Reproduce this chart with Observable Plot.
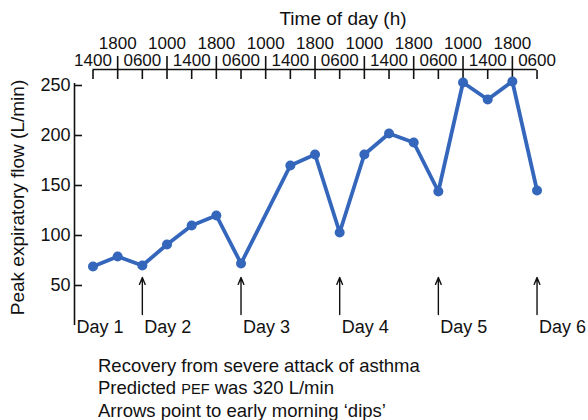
<!DOCTYPE html>
<html>
<head>
<meta charset="utf-8">
<script src="https://cdn.jsdelivr.net/npm/d3@7"></script>
<script src="https://cdn.jsdelivr.net/npm/@observablehq/plot@0.6"></script>
<style>
  body { margin: 0; background: #fff; font-family: "Liberation Sans", Arial, sans-serif; color: #111; }
  #cap { margin: 15px 0 0 98px; font-size: 18.5px; line-height: 22px; }
  #cap .sc { font-size: 14.5px; }
</style>
</head>
<body>
<div id="chart"></div>
<div id="cap">
  <div>Recovery from severe attack of asthma</div>
  <div>Predicted <span class="sc">PEF</span> was 320 L/min</div>
  <div>Arrows point to early morning ‘dips’</div>
</div>
<script>
// Reading slots (evenly spaced readings at 0600, 1000, 1400, 1800; slot 7 missing)
const readingIndex = [0, 1, 2, 3, 4, 5, 6, 8, 9, 10, 11, 12, 13, 14, 15, 16, 17, 18];
const pefValues   = [69, 79, 70, 91, 110, 120, 72, 170, 181, 103, 181, 202, 193, 144, 253, 236, 254, 145];

// Top axis tick labels (one per slot)
const timeLabels = ["1400","1800","0600","1000","1400","1800","0600","1000","1400","1800",
                    "0600","1000","1400","1800","0600","1000","1400","1800","0600"];
const lowerRowTicks = [0, 2, 4, 6, 8, 10, 12, 14, 16, 18];
const upperRowTicks = [1, 3, 5, 7, 9, 11, 13, 15, 17];

const yTicks = [50, 100, 150, 200, 250];

// Early-morning dips (arrows) and day labels
const dipIndex = [2, 6, 10, 14, 18];
const dayLabels = ["Day 1", "Day 2", "Day 3", "Day 4", "Day 5", "Day 6"];
const dayIndex = [-0.75, 2, 6, 10, 14, 18];

const xMin = -0.75, xMax = 18.1;
const yMin = 10, yMax = 266;
const ink = "#111";
const blue = "#3466bb";

const data = readingIndex.map((i, k) => ({i, v: pefValues[k]}));
const days = dayLabels.map((t, k) => ({t, i: dayIndex[k]}));

const chart = Plot.plot({
  width: 588,
  height: 340,
  marginLeft: 74,
  marginRight: 49,
  marginTop: 69,
  marginBottom: 15,
  x: {domain: [xMin, xMax], axis: null},
  y: {domain: [yMin, yMax], axis: null},
  style: {fontFamily: "'Liberation Sans', Arial, sans-serif", background: "white", color: ink, overflow: "visible"},
  marks: [
    // y axis line
    Plot.ruleX([xMin], {y1: 10, y2: 252, stroke: ink, strokeWidth: 1.6}),
    // top axis line
    Plot.ruleY([yMax], {x1: 0, x2: 18, stroke: ink, strokeWidth: 1.6}),
    // y ticks (pointing inward)
    Plot.axisY(yTicks, {anchor: "left", tickSize: 8, dx: 8, fill: "none", label: null, stroke: ink, strokeWidth: 1.6}),
    Plot.axisY(yTicks, {anchor: "left", tickSize: 0, tickPadding: 4, fontSize: 18, label: null, fill: ink}),
    // top axis ticks
    Plot.axisX(lowerRowTicks, {anchor: "top", tickSize: 9, dy: 9, fill: "none", label: null, stroke: ink, strokeWidth: 1.6}),
    Plot.axisX(upperRowTicks, {anchor: "top", tickSize: 23, dy: 9, fill: "none", label: null, stroke: ink, strokeWidth: 1.6}),
    // top axis labels
    Plot.axisX(lowerRowTicks, {anchor: "top", tickSize: 0, tickPadding: 4, fontSize: 17, label: null, fill: ink, tickFormat: i => timeLabels[i]}),
    Plot.axisX(upperRowTicks, {anchor: "top", tickSize: 0, tickPadding: 21, fontSize: 17, label: null, fill: ink, tickFormat: i => timeLabels[i]}),
    // titles
    Plot.text(["Time of day (h)"], {frameAnchor: "top", lineAnchor: "middle", textAnchor: "middle", dx: 36, dy: -51, fontSize: 19, fill: ink}),
    Plot.text(["Peak expiratory flow (L/min)"], {frameAnchor: "left", lineAnchor: "middle", textAnchor: "middle", dx: -57, rotate: -90, fontSize: 19, fill: ink}),
    // arrows
    Plot.arrow(dipIndex, {x: d => d, y1: 21, y2: 58, stroke: ink, strokeWidth: 1.4, headLength: 8, headAngle: 45}),
    // day labels
    Plot.text(days, {x: "i", frameAnchor: "bottom", text: "t", textAnchor: "start", lineAnchor: "middle", dx: 2, dy: 2, fontSize: 18, fill: ink}),
    // data
    Plot.line(data, {x: "i", y: "v", stroke: blue, strokeWidth: 3.8, strokeLinejoin: "round"}),
    Plot.dot(data, {x: "i", y: "v", r: 5, fill: blue})
  ]
});
document.getElementById("chart").appendChild(chart);
</script>
</body>
</html>
